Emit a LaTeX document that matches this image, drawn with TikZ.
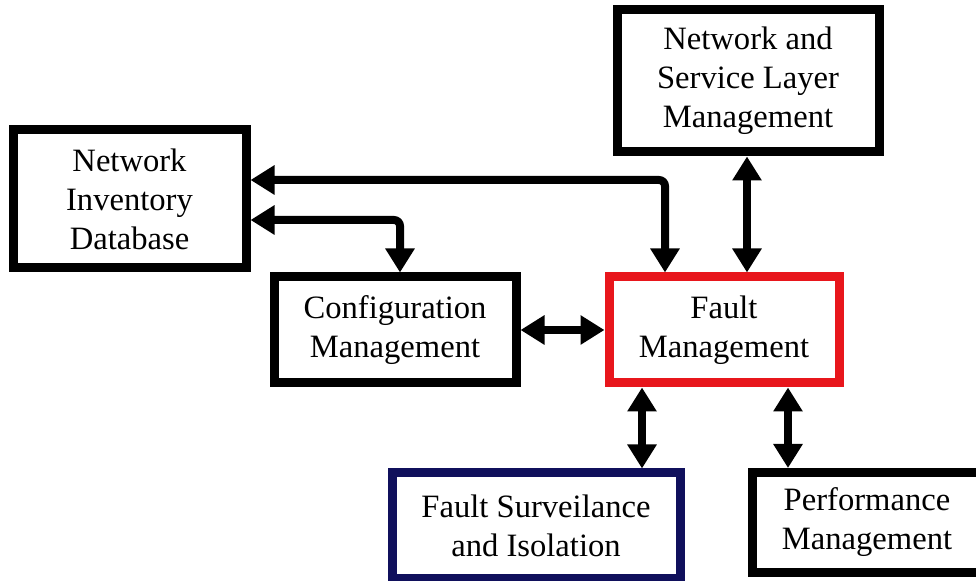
\documentclass[tikz,border=0pt]{standalone}
\usepackage{fontspec}
\setmainfont{Liberation Serif}
\usetikzlibrary{arrows.meta}
\definecolor{faultred}{RGB}{232,22,28}
\definecolor{navy}{RGB}{16,16,92}
\tikzset{
  box/.style={draw=black, line width=4.5pt, fill=white, align=center,
    font=\fontsize{16.3}{19.5}\selectfont, inner sep=0pt},
  tip/.tip={Triangle[length=12pt,width=14pt]},
  dbl/.style={line width=4pt, tip-tip},
}
\begin{document}
\begin{tikzpicture}[x=0.5pt, y=-0.5pt]
  \useasboundingbox (0,0) rectangle (976,581);
  \clip (0,0) rectangle (976,581);
  \fill[white] (0,0) rectangle (976,581);

  % boxes (centre, width and height of the border line)
  \node[box, minimum width=131pt, minimum height=71pt] (nsl) at (748,81)
    {Network and\\Service Layer\\Management};
  \node[box, minimum width=116.5pt, minimum height=69pt] (nid) at (129.5,199)
    {Network\\Inventory\\Database};
  \node[box, minimum width=121pt, minimum height=53pt] (cm) at (395,330)
    {Configuration\\Management};
  \node[box, draw=faultred, minimum width=115pt, minimum height=53pt] (fm) at (724,330)
    {Fault\\Management};
  \node[box, draw=navy, minimum width=144pt, minimum height=53pt] (fsi) at (536,526)
    {Fault Surveilance\\and Isolation};
  \node[box, minimum width=115pt, minimum height=50pt] (pm) at (867,522.5)
    {Performance\\Management};

  % routing points for the connectors
  \coordinate (r1) at (665,180);
  \coordinate (r2) at (400,220);
  \coordinate (r3) at (747,0);
  \coordinate (r4) at (642,0);
  \coordinate (r5) at (788,0);

  % connectors
  \draw[dbl, rounded corners=3pt] (nid.east |- r1) -| (fm.north -| r1);
  \draw[dbl, rounded corners=3pt] (nid.east |- r2) -| (cm.north -| r2);
  \draw[dbl] (nsl.south -| r3) -- (fm.north -| r3);
  \draw[dbl] (cm.east) -- (fm.west);
  \draw[dbl] (fm.south -| r4) -- (fsi.north -| r4);
  \draw[dbl] (fm.south -| r5) -- (pm.north -| r5);
\end{tikzpicture}
\end{document}
